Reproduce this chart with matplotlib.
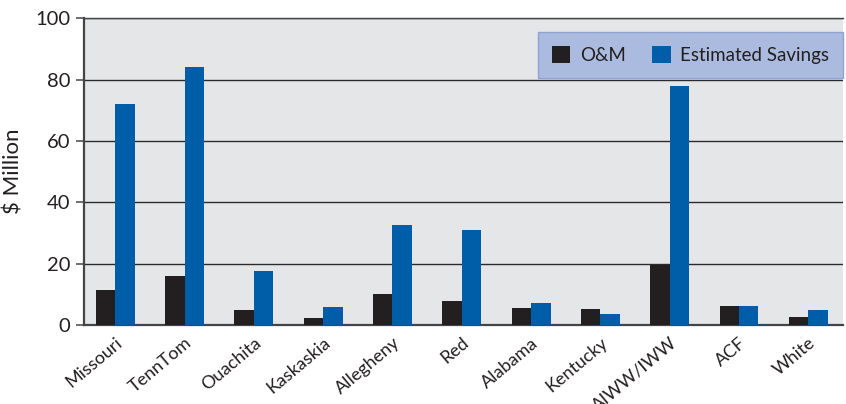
import matplotlib.pyplot as plt
import numpy as np

plt.rcParams['font.family'] = ['Lato', 'DejaVu Sans']

rivers = ["Missouri", "TennTom", "Ouachita", "Kaskaskia", "Allegheny", "Red",
          "Alabama", "Kentucky", "AIWW/IWW", "ACF", "White"]
om = [11.5, 16, 5, 2.3, 10, 7.8, 5.6, 5.3, 19.5, 6.3, 2.5]
savings = [72, 84, 17.5, 6, 32.5, 31, 7.3, 3.5, 78, 6.3, 4.8]


def main():
    fig = plt.figure(figsize=(8.46, 4.04), dpi=100)
    ax = fig.add_axes([0.0993, 0.1955, 0.8972, 0.7595])
    ax.set_facecolor("#e5e6e8")

    x = np.arange(len(rivers))
    w = 0.28
    ax.bar(x - w / 2, om, w, color="#231f20", label="O&M", zorder=3)
    ax.bar(x + w / 2, savings, w, color="#005da8", label="Estimated Savings", zorder=3)

    ax.set_ylim(0, 100)
    ax.set_xlim(-0.45, len(rivers) - 0.5)
    ax.set_yticks([0, 20, 40, 60, 80, 100])
    ax.yaxis.grid(True, color="#2b2b2b", linewidth=1.0, zorder=1)
    ax.set_xticks(x)
    ax.set_xticklabels(rivers, rotation=40, ha="right", rotation_mode="anchor",
                       fontsize=13, color="#231f20")
    ax.tick_params(axis="x", length=0, pad=7)
    ax.tick_params(axis="y", length=6, width=1.2, color="#555555",
                   labelsize=14.5, labelcolor="#231f20", direction="out", pad=4)

    for side in ["left", "bottom", "top"]:
        ax.spines[side].set_color("#444444")
        ax.spines[side].set_linewidth(1.6)
    ax.spines["top"].set_linewidth(1.0)
    ax.spines["right"].set_visible(False)

    ax.set_ylabel(r"\$ Million", fontsize=16, color="#231f20")
    ax.yaxis.set_label_coords(-0.08, 0.5)

    leg = ax.legend(loc="upper right", bbox_to_anchor=(1.0, 0.955), ncol=2,
                    frameon=True, fancybox=False, fontsize=13.5,
                    handlelength=1.0, handleheight=1.0, columnspacing=1.4,
                    handletextpad=0.5, borderpad=0.75, borderaxespad=0)
    leg.get_frame().set_facecolor("#aabbdf")
    leg.get_frame().set_edgecolor("#8fa3d3")
    leg.get_frame().set_alpha(1)
    for t in leg.get_texts():
        t.set_color("#231f20")

    fig.savefig("out.png", dpi=100)


if __name__ == "__main__":
    main()
